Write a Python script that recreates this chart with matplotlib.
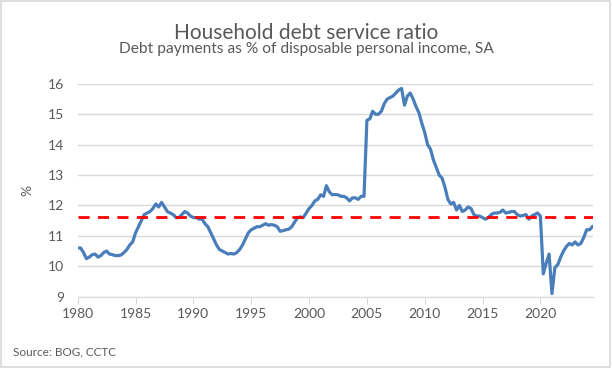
import matplotlib.pyplot as plt
import matplotlib.patches as mpatches
import numpy as np

plt.rcParams['font.family'] = ['Lato', 'DejaVu Sans']

# quarterly debt service ratio, 1980Q1 - 2024Q3
dsr = [
    10.6, 10.6, 10.45, 10.25,   # 1980
    10.3, 10.38, 10.4, 10.3,    # 1981
    10.35, 10.45, 10.5, 10.4,   # 1982
    10.38, 10.35, 10.35, 10.37, # 1983
    10.45, 10.55, 10.7, 10.8,   # 1984
    11.1, 11.3, 11.5, 11.7,     # 1985
    11.75, 11.8, 11.9, 12.05,   # 1986
    11.95, 12.1, 11.95, 11.8,   # 1987
    11.75, 11.7, 11.6, 11.6,    # 1988
    11.7, 11.8, 11.75, 11.65,   # 1989
    11.6, 11.6, 11.55, 11.55,   # 1990
    11.4, 11.3, 11.1, 10.9,     # 1991
    10.7, 10.55, 10.5, 10.45,   # 1992
    10.4, 10.42, 10.4, 10.45,   # 1993
    10.55, 10.7, 10.9, 11.1,    # 1994
    11.2, 11.25, 11.3, 11.3,    # 1995
    11.35, 11.4, 11.35, 11.37,  # 1996
    11.35, 11.3, 11.15, 11.17,  # 1997
    11.2, 11.22, 11.3, 11.45,   # 1998
    11.6, 11.62, 11.6, 11.75,   # 1999
    11.9, 12.0, 12.15, 12.2,    # 2000
    12.35, 12.3, 12.65, 12.45,  # 2001
    12.35, 12.36, 12.35, 12.3,  # 2002
    12.3, 12.25, 12.15, 12.25,  # 2003
    12.25, 12.2, 12.3, 12.3,    # 2004
    14.8, 14.85, 15.1, 15.0,    # 2005
    15.0, 15.1, 15.35, 15.5,    # 2006
    15.55, 15.6, 15.7, 15.8,    # 2007
    15.85, 15.3, 15.6, 15.7,    # 2008
    15.5, 15.25, 15.05, 14.7,   # 2009
    14.4, 14.0, 13.85, 13.5,    # 2010
    13.25, 13.0, 12.9, 12.6,    # 2011
    12.2, 12.05, 12.1, 11.85,   # 2012
    12.0, 11.8, 11.85, 11.95,   # 2013
    11.9, 11.7, 11.65, 11.65,   # 2014
    11.6, 11.55, 11.6, 11.7,    # 2015
    11.75, 11.75, 11.77, 11.85, # 2016
    11.75, 11.77, 11.8, 11.8,   # 2017
    11.7, 11.65, 11.67, 11.7,   # 2018
    11.55, 11.65, 11.7, 11.75,  # 2019
    11.65, 9.75, 10.1, 10.4,    # 2020
    9.1, 9.95, 10.05, 10.3,     # 2021
    10.5, 10.65, 10.75, 10.7,   # 2022
    10.8, 10.7, 10.75, 10.95,   # 2023
    11.2, 11.2, 11.3,           # 2024
]
avg_line = 11.63
start_year = 1980
x_ticks = list(range(1980, 2021, 5))
y_ticks = list(range(9, 17))

years = start_year + np.arange(len(dsr)) / 4

fig = plt.figure(figsize=(6.12, 3.68), dpi=100)
ax = fig.add_axes([0.127, 0.194, 0.842, 0.578])

ax.plot(years, dsr, color='#4A7EBB', lw=2.3, solid_joinstyle='round', zorder=3)
ax.axhline(avg_line, color='#FF0000', lw=2, ls=(0, (4, 3)), zorder=4)

ax.set_xlim(1980, years[-1] + 0.05)
ax.set_ylim(9, 16)
ax.set_yticks(y_ticks)
ax.set_xticks(x_ticks)
ax.grid(axis='y', color='#D9D9D9', lw=1)
ax.set_axisbelow(True)
for s in ['top', 'right', 'left']:
    ax.spines[s].set_visible(False)
ax.spines['bottom'].set_color('#D9D9D9')
ax.tick_params(axis='y', length=0, labelsize=10, labelcolor='#595959', pad=10)
ax.tick_params(axis='x', length=5, color='#D9D9D9', labelsize=10,
               labelcolor='#595959', direction='out')
ax.set_ylabel('%', fontsize=10, color='#595959', labelpad=10)

fig.text(0.5, 0.91, 'Household debt service ratio', ha='center', va='center',
         fontsize=15, color='#595959')
fig.text(0.5, 0.866, 'Debt payments as % of disposable personal income, SA',
         ha='center', va='center', fontsize=11.2, color='#595959')
fig.text(0.022, 0.045, 'Source: BOG, CCTC', ha='left', va='center',
         fontsize=8.5, color='#595959')

fig.patches.append(mpatches.Rectangle((0.002, 0.003), 0.995, 0.993,
                                      transform=fig.transFigure, fill=False,
                                      edgecolor='#D9D9D9', lw=1.2))

fig.savefig('out.png', dpi=100)
